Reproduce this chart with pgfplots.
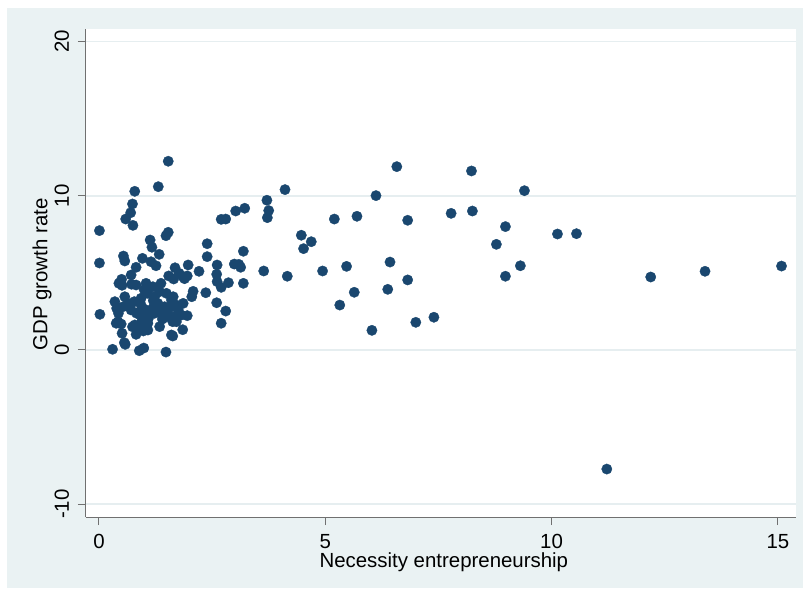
\documentclass[border=0pt]{standalone}
\usepackage{fontspec}
\setmainfont{Liberation Sans}
\usepackage{pgfplots}
\pgfplotsset{compat=1.18}
\definecolor{bgcol}{HTML}{EAF2F3}
\definecolor{gridcol}{HTML}{E6EEF0}
\definecolor{dotcol}{HTML}{1A476F}
\definecolor{axcol}{HTML}{707070}
\begin{document}
\begin{tikzpicture}
\path (-86bp,-73bp) rectangle (719bp,517bp);
\fill[bgcol] (-79bp,-71bp) rectangle (717bp,509bp);
\begin{axis}[
  at={(0,0)}, anchor=south west,
  scale only axis, width=710bp, height=488bp,
  xmin=-0.287, xmax=15.40, ymin=-10.84, ymax=20.82,
  axis background/.style={fill=white},
  axis x line*=bottom, axis y line*=left,
  axis line style={-, draw=axcol, line width=1bp},
  xtick={0,5,10,15}, ytick={-10,0,10,20},
  tick align=outside, major tick length=8bp,
  tick style={draw=axcol, line width=1bp},
  ymajorgrids, grid style={draw=gridcol, line width=1.6bp},
  /pgf/number format/assume math mode=true,
  ticklabel style={font=\fontsize{20.5}{24}\selectfont, inner sep=0pt},
  xticklabel style={anchor=north},
  yticklabel style={rotate=90, anchor=base},
  xticklabel shift=9bp, yticklabel shift=9bp,
  label style={font=\fontsize{20.5}{24}\selectfont, inner sep=0pt},
  xlabel={Necessity entrepreneurship},
  ylabel={GDP growth rate},
  xlabel style={at={(axis description cs:0.504,-0.1030)}, anchor=base},
  ylabel style={at={(axis description cs:-0.0545,0.497)}, anchor=base, rotate=0},
  clip=false,
]
\addplot[only marks, mark=*, mark size=5.2bp, mark options={fill=dotcol, draw=dotcol, line width=0.3bp}] coordinates {
(0.01,7.74) (0.01,5.64) (0.02,2.31)
(0.30,0.04) (0.58,0.36) (0.89,-0.05) (0.99,0.12) (1.48,-0.14)
(1.53,12.24) (1.31,10.59) (0.79,10.29) (0.74,9.47) (0.70,8.90) (0.59,8.49) (0.75,8.08)
(1.48,7.41) (1.53,7.63) (1.13,7.13) (1.17,6.66) (1.33,6.20) (0.54,6.09) (0.57,5.77)
(0.96,5.94) (1.15,5.72) (1.26,5.46) (0.82,5.36) (0.71,4.86)
(2.39,6.89) (2.39,6.05) (3.19,6.40) (1.97,5.51) (2.61,5.51) (2.99,5.57) (3.09,5.55)
(3.13,5.36) (2.21,5.10) (2.60,4.91) (2.61,4.43) (2.70,4.06) (2.86,4.36) (3.19,4.32)
(2.36,3.71) (2.08,3.80) (2.05,3.45) (2.60,3.06) (2.80,2.52) (2.70,1.73) (1.95,2.22)
(1.85,1.31) (1.63,0.90) (1.68,5.33) (1.77,4.97) (1.86,4.75) (1.95,4.80) (1.54,4.80)
(1.65,4.60) (1.89,4.62) (3.02,9.01) (3.22,9.19) (2.70,8.47) (2.80,8.49)
(0.44,4.32) (0.51,4.19) (0.50,4.58) (0.72,4.26) (0.35,3.13) (0.39,2.70) (0.43,2.38)
(0.38,1.73) (0.49,1.68) (0.51,1.08) (0.56,0.47) (0.78,3.13) (0.83,2.38) (0.74,1.50)
(0.83,1.40) (0.95,1.88) (1.02,1.66) (0.98,1.23) (0.82,1.01) (0.82,4.21) (1.04,4.32)
(1.19,4.10) (1.37,4.32) (0.57,3.45) (0.93,3.35) (1.08,3.67) (1.23,3.45) (1.34,3.78)
(1.49,3.67) (1.60,3.24) (0.53,2.80) (0.64,3.02) (0.71,2.59) (0.93,2.91) (1.04,2.59)
(1.19,2.70) (1.30,3.02) (1.45,2.80) (1.60,2.80) (1.71,2.91) (0.42,1.83) (0.79,1.62)
(0.86,1.29) (0.97,1.94) (1.08,1.73) (1.08,1.29) (1.34,1.51) (1.49,2.16) (1.63,1.83)
(1.60,0.97) (1.23,2.38) (1.34,2.48) (1.52,2.38) (1.67,2.16) (1.86,3.02) (1.64,3.45)
(1.75,2.59) (1.82,2.26) (1.71,1.83) (1.00,3.90) (1.20,3.20) (0.90,2.30) (1.40,2.00)
(1.10,2.10)
(4.11,10.40) (3.71,9.71) (3.75,9.04) (3.72,8.58) (5.20,8.49) (5.70,8.67) (4.47,7.44)
(4.69,7.02) (4.52,6.57) (3.64,5.12) (4.16,4.78) (4.94,5.12) (5.47,5.42) (5.64,3.74)
(5.32,2.91) (6.58,11.89) (8.23,11.61) (6.12,10.01) (9.40,10.33) (6.82,8.41) (7.78,8.86)
(8.25,9.01) (8.98,8.00) (8.78,6.85) (6.43,5.70) (6.82,4.54) (6.38,3.93) (9.31,5.46)
(8.98,4.78) (7.00,1.79) (7.40,2.12) (6.03,1.27) (10.13,7.52) (10.55,7.54) (12.19,4.73)
(13.39,5.10) (15.08,5.44) (11.22,-7.73)
};
\end{axis}
\end{tikzpicture}
\end{document}
